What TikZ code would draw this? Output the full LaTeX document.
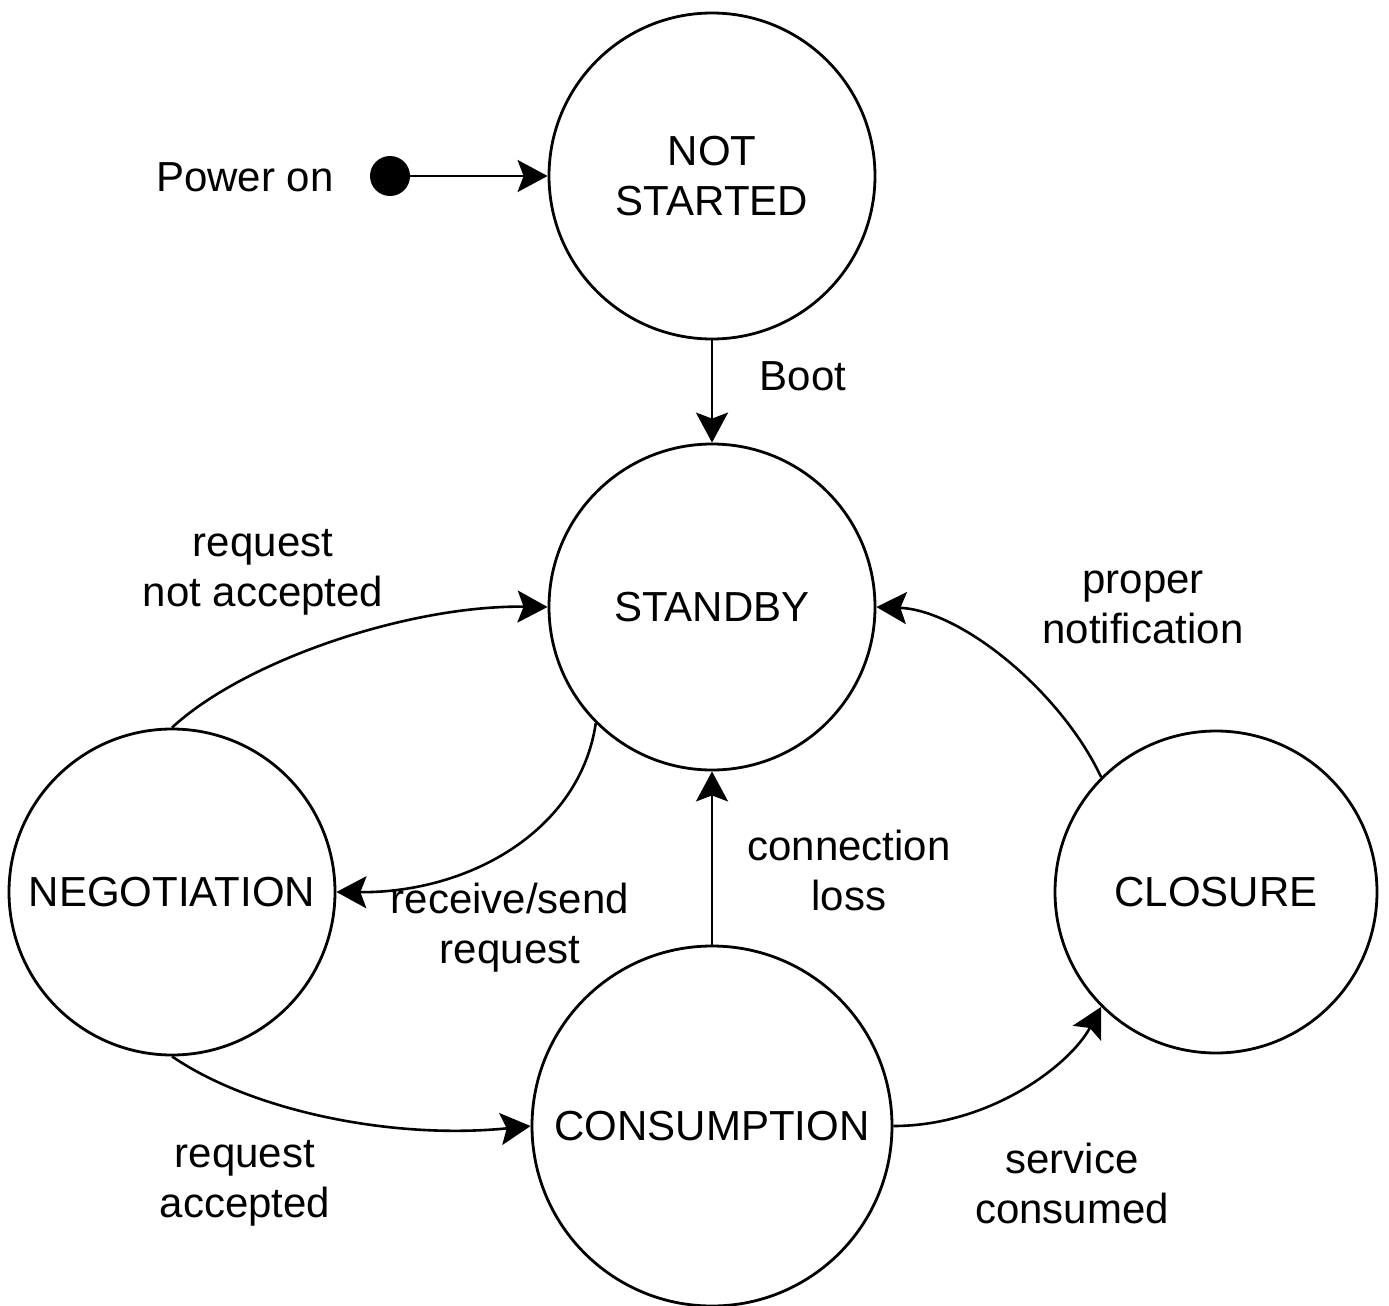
\documentclass[tikz,border=0pt]{standalone}
\usepackage{fontspec}
\setmainfont{Liberation Sans}
\usetikzlibrary{arrows.meta}
\begin{document}
\begin{tikzpicture}[x=1pt,y=-1pt,
  state/.style={circle,draw,line width=2.8pt,inner sep=0pt,font=\fontsize{42}{50}\selectfont,align=center},
  lbl/.style={font=\fontsize{42}{50}\selectfont,align=center,inner sep=0pt},
  conn/.style={line width=2.6pt,-{Stealth[length=30pt,width=32pt,inset=6pt]}}]
\useasboundingbox (0,0) rectangle (1389,1306);
\node[state,minimum size=326pt] (ns) at (712,176) {NOT\\STARTED};
\node[state,minimum size=326pt] (stb) at (712,607) {STANDBY};
\node[state,minimum size=326pt] (neg) at (172,892) {NEGOTIATION};
\node[state,minimum size=360pt] (cons) at (712,1126) {CONSUMPTION};
\node[state,minimum size=322pt] (clo) at (1216,892) {CLOSURE};
\node[circle,fill=black,minimum size=40pt,inner sep=0pt] (init) at (390,176) {};
\node[lbl] (lpow) at (245,177) {Power on};
\node[lbl] (lboot) at (803,376) {Boot};
\node[lbl] (lrna) at (263,572) {request\\not accepted};
\node[lbl] (lrs) at (510,928) {receive/send\\request};
\node[lbl] (lcl) at (849,870) {connection\\loss};
\node[lbl] (lra) at (245,1183) {request\\accepted};
\node[lbl] (lsc) at (1072,1183) {service\\consumed};
\node[lbl] (lpn) at (1143,607) {proper\\notification};
\draw[conn] (init) -- (ns.west);
\draw[conn] (ns.south) -- (stb.north);
\draw[conn] (cons.north) -- (stb.south);
\draw[conn] (neg.north) .. controls (245,660) and (410,605) .. (stb.west);
\draw[conn] (stb.225) .. controls (580,830) and (470,893) .. (neg.east);
\draw[conn] (neg.south) .. controls (250,1110) and (390,1140) .. (cons.west);
\draw[conn] (cons.east) .. controls (990,1126) and (1070,1065) .. (clo.225);
\draw[conn] (clo.135) .. controls (1060,690) and (960,610) .. (stb.east);
\end{tikzpicture}
\end{document}
